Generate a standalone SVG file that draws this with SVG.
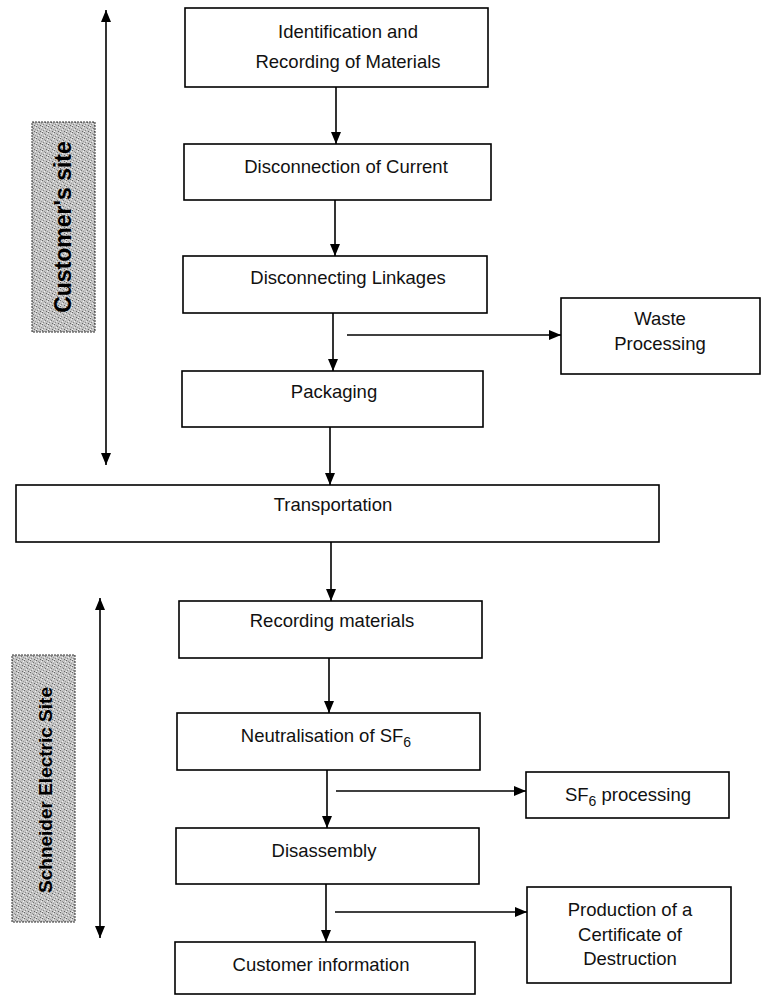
<svg xmlns="http://www.w3.org/2000/svg" width="762" height="998" viewBox="0 0 762 998">
<style>
.box{fill:#fff;stroke:#000;stroke-width:1.6}
.t{font-family:"Liberation Sans",Arial,sans-serif;font-size:18.5px;fill:#111;text-anchor:middle}
.sub{font-size:14px}
.lbl{stroke:#333;stroke-width:1;stroke-dasharray:2 1}
.lt{font-family:"Liberation Sans",Arial,sans-serif;fill:#000;text-anchor:middle;font-weight:bold}
.c{stroke:#000;stroke-width:1.6;fill:none}
</style>
<defs>
<marker id="ah" viewBox="0 0 12 10" refX="12" refY="5" markerWidth="12" markerHeight="10" markerUnits="userSpaceOnUse" orient="auto-start-reverse">
<path d="M0,0 L12,5 L0,10 z" fill="#000"/>
</marker>
<pattern id="spk" width="6" height="6" patternUnits="userSpaceOnUse">
<rect width="6" height="6" fill="#c4c4c4"/>
<rect x="0" y="0" width="1" height="1" fill="#666"/>
<rect x="3" y="2" width="1" height="1" fill="#777"/>
<rect x="1" y="4" width="1" height="1" fill="#888"/>
<rect x="4" y="5" width="1" height="1" fill="#666"/>
<rect x="5" y="3" width="1" height="1" fill="#999"/>
<rect x="2" y="1" width="1" height="1" fill="#999"/>
<rect x="5" y="1" width="1" height="1" fill="#eee"/>
<rect x="2" y="3" width="1" height="1" fill="#eee"/>
<rect x="0" y="5" width="1" height="1" fill="#f2f2f2"/>
</pattern>
</defs>

<g id="customers-site-label">
<rect class="lbl" x="32" y="122" width="63" height="210" style="fill:url(#spk)"/>
<text class="lt" font-size="23" transform="translate(71,227) rotate(-90)">Customer's site</text>
</g>
<g id="schneider-site-label">
<rect class="lbl" x="12" y="655" width="63" height="267" style="fill:url(#spk)"/>
<text class="lt" font-size="19" transform="translate(52,790) rotate(-90)">Schneider Electric Site</text>
</g>

<g id="n1">
<rect class="box" x="185" y="8" width="303" height="79"/>
<text class="t" x="348" y="38">Identification and</text>
<text class="t" x="348" y="68">Recording of Materials</text>
</g>
<g id="n2">
<rect class="box" x="184" y="144" width="307" height="56"/>
<text class="t" x="346" y="173">Disconnection of Current</text>
</g>
<g id="n3">
<rect class="box" x="183" y="256" width="304" height="57"/>
<text class="t" x="348" y="284">Disconnecting Linkages</text>
</g>
<g id="n4">
<rect class="box" x="561" y="298" width="199" height="76"/>
<text class="t" x="660" y="325">Waste</text>
<text class="t" x="660" y="350">Processing</text>
</g>
<g id="n5">
<rect class="box" x="182" y="371" width="301" height="56"/>
<text class="t" x="334" y="398">Packaging</text>
</g>
<g id="n6">
<rect class="box" x="16" y="485" width="643" height="57"/>
<text class="t" x="333" y="511">Transportation</text>
</g>
<g id="n7">
<rect class="box" x="179" y="601" width="303" height="57"/>
<text class="t" x="332" y="627">Recording materials</text>
</g>
<g id="n8">
<rect class="box" x="177" y="713" width="303" height="57"/>
<text class="t" x="326" y="742">Neutralisation of SF<tspan class="sub" dy="5">6</tspan></text>
</g>
<g id="n9">
<rect class="box" x="526" y="772" width="203" height="46"/>
<text class="t" x="628" y="801">SF<tspan class="sub" dy="5">6</tspan><tspan dy="-5"> processing</tspan></text>
</g>
<g id="n10">
<rect class="box" x="176" y="828" width="303" height="56"/>
<text class="t" x="324" y="857">Disassembly</text>
</g>
<g id="n11">
<rect class="box" x="527" y="887" width="204" height="96"/>
<text class="t" x="630" y="916">Production of a</text>
<text class="t" x="630" y="941">Certificate of</text>
<text class="t" x="630" y="965">Destruction</text>
</g>
<g id="n12">
<rect class="box" x="175" y="942" width="300" height="52"/>
<text class="t" x="321" y="971">Customer information</text>
</g>

<g id="connectors">
<line class="c" x1="106" y1="10" x2="106" y2="465" marker-start="url(#ah)" marker-end="url(#ah)"/>
<line class="c" x1="100" y1="598" x2="100" y2="938" marker-start="url(#ah)" marker-end="url(#ah)"/>
<line class="c" x1="336" y1="87" x2="336" y2="144" marker-end="url(#ah)"/>
<line class="c" x1="335" y1="200" x2="335" y2="256" marker-end="url(#ah)"/>
<line class="c" x1="333" y1="313" x2="333" y2="371" marker-end="url(#ah)"/>
<line class="c" x1="347" y1="335" x2="561" y2="335" marker-end="url(#ah)"/>
<line class="c" x1="330" y1="427" x2="330" y2="485" marker-end="url(#ah)"/>
<line class="c" x1="331" y1="542" x2="331" y2="601" marker-end="url(#ah)"/>
<line class="c" x1="329" y1="658" x2="329" y2="713" marker-end="url(#ah)"/>
<line class="c" x1="327" y1="770" x2="327" y2="828" marker-end="url(#ah)"/>
<line class="c" x1="336" y1="791" x2="526" y2="791" marker-end="url(#ah)"/>
<line class="c" x1="326" y1="884" x2="326" y2="942" marker-end="url(#ah)"/>
<line class="c" x1="335" y1="912" x2="527" y2="912" marker-end="url(#ah)"/>
</g>
</svg>
